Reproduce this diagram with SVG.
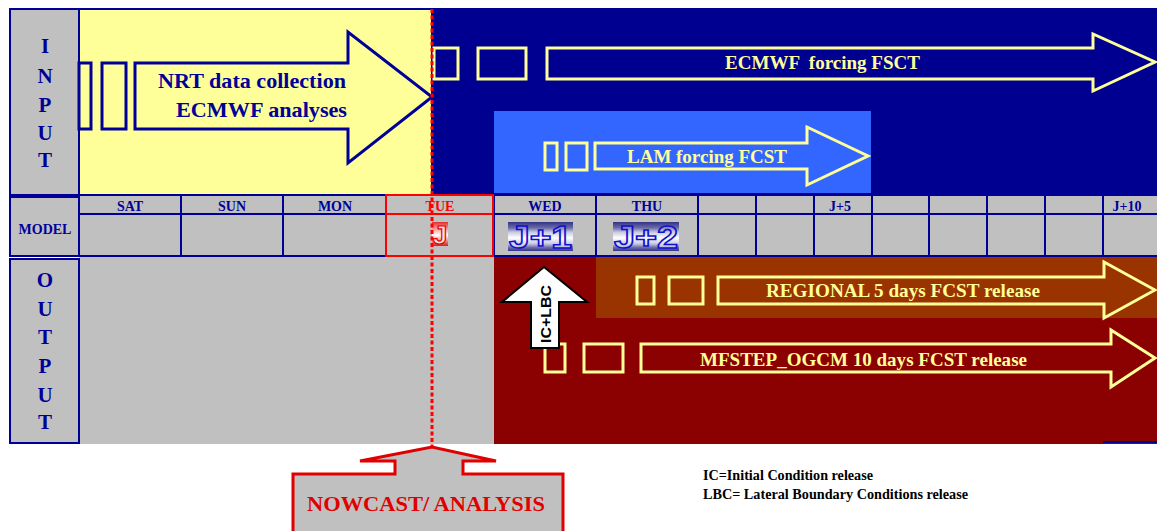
<svg xmlns="http://www.w3.org/2000/svg" width="1157" height="531" viewBox="0 0 1157 531">
<defs>
<style>
.serif{font-family:"Liberation Serif","Times New Roman",serif;font-weight:bold}
.blue{fill:#000099}
.yel{fill:#FFFF99}
.cell{fill:#C0C0C0;stroke:#000099;stroke-width:2}
.grid{stroke:#000099;stroke-width:2;fill:none}
.yarrow{fill:none;stroke:#FFFF99;stroke-width:3}
.hdr{font-size:14px;text-anchor:middle}
.letter{font-size:21px;text-anchor:middle}
</style>
<linearGradient id="stripe" x1="0" y1="0" x2="0" y2="1">
<stop offset="0" stop-color="#333388"/>
<stop offset="0.2" stop-color="#6a6aa8"/>
<stop offset="0.35" stop-color="#c8c8e0"/>
<stop offset="0.55" stop-color="#ffffff"/>
<stop offset="0.75" stop-color="#c8c8e0"/>
<stop offset="0.88" stop-color="#6a6aa8"/>
<stop offset="1" stop-color="#333388"/>
</linearGradient>
<linearGradient id="redstripe" x1="0" y1="0" x2="0" y2="1">
<stop offset="0" stop-color="#e03030"/>
<stop offset="0.3" stop-color="#f8a0a0"/>
<stop offset="0.55" stop-color="#ffffff"/>
<stop offset="0.8" stop-color="#f08080"/>
<stop offset="1" stop-color="#d02020"/>
</linearGradient>
</defs>
<rect width="1157" height="531" fill="#ffffff"/>

<!-- backgrounds -->
<g id="input-area">
<rect x="79" y="9" width="353" height="186" fill="#FFFF99" stroke="#000099" stroke-width="2"/>
<rect x="432" y="8" width="725" height="187" fill="#000090"/>
<rect x="494" y="111" width="377" height="82" fill="#3366FF"/>
</g>
<g id="output-area">
<rect x="79" y="257" width="415" height="187" fill="#C0C0C0"/>
<rect x="494" y="257" width="663" height="187" fill="#8B0000"/>
<rect x="596" y="257" width="561" height="61" fill="#993300"/>
<line x1="1103" y1="442" x2="1157" y2="442" stroke="#000099" stroke-width="2"/>
</g>

<!-- side labels -->
<g id="input-label">
<rect class="cell" x="10" y="9" width="69" height="186"/>
<g class="serif blue letter">
<text x="45" y="53">I</text>
<text x="45" y="83">N</text>
<text x="45" y="112">P</text>
<text x="45" y="140">U</text>
<text x="45" y="167">T</text>
</g>
</g>
<g id="model-label">
<rect class="cell" x="10" y="197" width="69" height="59"/>
<text class="serif blue" x="45" y="234" font-size="14" text-anchor="middle">MODEL</text>
</g>
<g id="output-label">
<rect class="cell" x="10" y="259" width="69" height="184"/>
<g class="serif blue letter">
<text x="45" y="287">O</text>
<text x="45" y="316">U</text>
<text x="45" y="344">T</text>
<text x="45" y="373">P</text>
<text x="45" y="402">U</text>
<text x="45" y="429">T</text>
</g>
</g>

<!-- model timeline row -->
<g id="model-row">
<rect x="79" y="195" width="1078" height="61" fill="#C0C0C0"/>
<path class="grid" d="M79 195H1157M79 214H1157M79 256H1157M79 195V256M181 195V256M283 195V256M494 195V256M596 195V256M698 195V256M756 195V256M814 195V256M872 195V256M929 195V256M987 195V256M1045 195V256M1103 195V256"/>
<rect x="386" y="195" width="107" height="61" fill="none" stroke="#FF0000" stroke-width="2"/>
<line x1="386" y1="214" x2="493" y2="214" stroke="#FF0000" stroke-width="2"/>
<g class="serif hdr blue">
<text x="130" y="211">SAT</text>
<text x="232" y="211">SUN</text>
<text x="335" y="211">MON</text>
<text x="545" y="211">WED</text>
<text x="647" y="211">THU</text>
<text x="840" y="211">J+5</text>
<text x="1127" y="211">J+10</text>
</g>
<text class="serif hdr" x="440" y="211" fill="#FF0000">TUE</text>
</g>

<g id="day-j">
<rect x="432" y="222" width="16" height="24" fill="url(#redstripe)"/>
<text x="440" y="244" font-family="Liberation Sans, Arial, sans-serif" font-weight="bold" font-size="26" text-anchor="middle" fill="#ffdddd" stroke="#E00000" stroke-width="1.2">J</text>
</g>
<g id="day-j1">
<rect x="508" y="222" width="65" height="29" fill="url(#stripe)"/>
<text x="540.5" y="248" font-family="Liberation Sans, Arial, sans-serif" font-weight="bold" font-size="32" text-anchor="middle" textLength="63" lengthAdjust="spacingAndGlyphs" fill="url(#stripe)" stroke="#1010D0" stroke-width="1.5">J+1</text>
</g>
<g id="day-j2">
<rect x="613" y="222" width="66" height="29" fill="url(#stripe)"/>
<text x="646" y="248" font-family="Liberation Sans, Arial, sans-serif" font-weight="bold" font-size="32" text-anchor="middle" textLength="64" lengthAdjust="spacingAndGlyphs" fill="url(#stripe)" stroke="#1010D0" stroke-width="1.5">J+2</text>
</g>

<!-- NRT arrow -->
<g id="nrt-arrow">
<rect x="79" y="63" width="12" height="66" fill="none" stroke="#000099" stroke-width="3"/>
<rect x="102" y="63" width="24" height="66" fill="none" stroke="#000099" stroke-width="3"/>
<path d="M135 63H348V32L432 97L348 163V129H135Z" fill="#FFFF99" stroke="#000099" stroke-width="3" stroke-linejoin="miter"/>
<text class="serif blue" x="346" y="88" font-size="22" text-anchor="end" textLength="188" lengthAdjust="spacingAndGlyphs">NRT data collection</text>
<text class="serif blue" x="347" y="117" font-size="22" text-anchor="end" textLength="171" lengthAdjust="spacingAndGlyphs">ECMWF analyses</text>
</g>

<!-- ECMWF forcing arrow -->
<g id="ecmwf-arrow">
<rect class="yarrow" x="434" y="48" width="24" height="31"/>
<rect class="yarrow" x="478" y="48" width="48" height="31"/>
<path class="yarrow" d="M547 48H1093V34L1155 62L1093 91V79H547Z"/>
<text class="serif yel" x="822.5" y="69" font-size="19" text-anchor="middle" textLength="195" lengthAdjust="spacingAndGlyphs" xml:space="preserve">ECMWF  forcing FSCT</text>
</g>

<!-- LAM forcing arrow -->
<g id="lam-arrow">
<rect class="yarrow" x="545" y="143" width="12" height="27"/>
<rect class="yarrow" x="566" y="143" width="21" height="27"/>
<path class="yarrow" d="M595 143H807V127L868 156L807 185V169H595Z"/>
<text class="serif yel" x="707" y="163" font-size="19" text-anchor="middle" textLength="160" lengthAdjust="spacingAndGlyphs">LAM forcing FCST</text>
</g>

<!-- Regional arrow -->
<g id="regional-arrow">
<rect class="yarrow" x="637" y="277" width="17" height="27"/>
<rect class="yarrow" x="669" y="277" width="34" height="27"/>
<path class="yarrow" d="M718 277H1104V262L1155 290L1104 318V304H718Z"/>
<text class="serif yel" x="903" y="297" font-size="19" text-anchor="middle" textLength="274" lengthAdjust="spacingAndGlyphs">REGIONAL 5 days FCST release</text>
</g>

<!-- MFSTEP arrow -->
<g id="mfstep-arrow">
<rect class="yarrow" x="545" y="344" width="20" height="28"/>
<rect class="yarrow" x="584" y="344" width="39" height="28"/>
<path class="yarrow" d="M641 344H1111V330L1155 358L1111 387V372H641Z"/>
<text class="serif yel" x="863.5" y="366" font-size="19" text-anchor="middle" textLength="327" lengthAdjust="spacingAndGlyphs">MFSTEP_OGCM 10 days FCST release</text>
</g>

<!-- IC+LBC arrow -->
<g id="ic-lbc-arrow">
<path d="M531 348V302H502L544 267L587 302H559V348Z" fill="#ffffff" stroke="#000000" stroke-width="2"/>
<text transform="translate(551 314) rotate(-90)" font-family="Liberation Sans, Arial, sans-serif" font-weight="bold" font-size="15" text-anchor="middle" textLength="58" lengthAdjust="spacingAndGlyphs" fill="#000000">IC+LBC</text>
</g>

<!-- Nowcast callout -->
<g id="nowcast">
<path d="M293 535V474H395V461H360L432 447L496 461H463V474H563V535" fill="#C0C0C0" stroke="#E00000" stroke-width="3" stroke-linejoin="miter"/>
<text class="serif" x="426" y="511" font-size="22" text-anchor="middle" fill="#E00000" textLength="238" lengthAdjust="spacingAndGlyphs">NOWCAST/ ANALYSIS</text>
</g>

<!-- connectors -->
<g id="connectors">
<line x1="432" y1="9" x2="432" y2="446" stroke="#FF0000" stroke-width="3" stroke-dasharray="4 2.5"/>
</g>

<!-- legend -->
<g id="legend">
<text class="serif" x="703" y="480" font-size="14" fill="#000000" textLength="170" lengthAdjust="spacingAndGlyphs">IC=Initial Condition release</text>
<text class="serif" x="703" y="499" font-size="14" fill="#000000" textLength="265" lengthAdjust="spacingAndGlyphs">LBC= Lateral Boundary Conditions release</text>
</g>
</svg>
